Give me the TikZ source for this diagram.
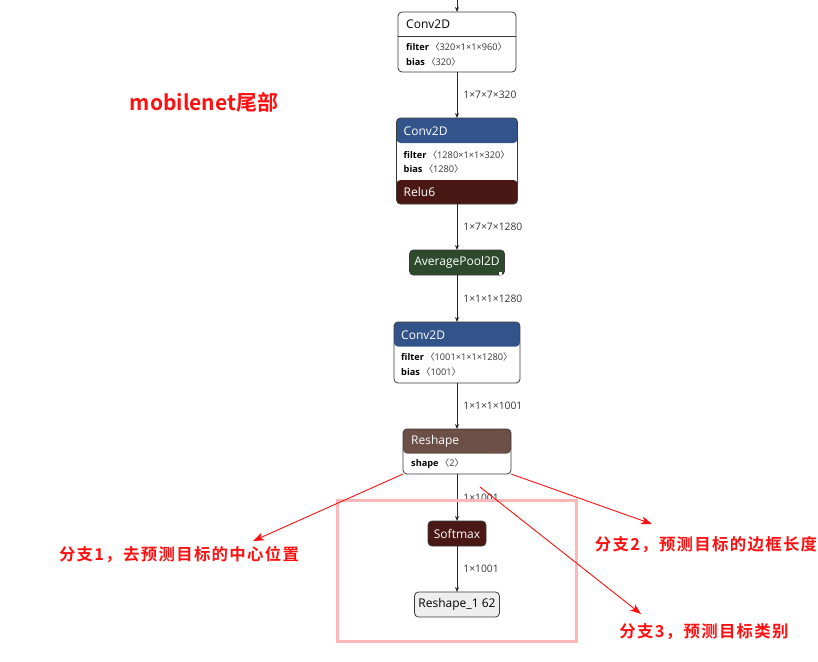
\documentclass[tikz,border=0pt]{standalone}
\usepackage{fontspec}
\setmainfont{Open Sans}
\newfontfamily\cjk{Noto Sans CJK SC}
\newfontfamily\cjkb{Noto Sans CJK SC Bold}
\usetikzlibrary{arrows.meta, positioning}
\definecolor{LayerBlue}{HTML}{33548A}
\definecolor{ActRed}{HTML}{4A1814}
\definecolor{PoolGreen}{HTML}{2E4A2C}
\definecolor{ShapeBrown}{HTML}{6C4F47}
\definecolor{InputGray}{HTML}{EEEEEE}
\definecolor{BoxLine}{HTML}{3A3A3A}
\definecolor{DimText}{HTML}{333333}
\definecolor{MarkRed}{HTML}{FF1010}
\definecolor{FramePink}{HTML}{FFB8B8}
\newcommand{\layerattr}[2]{\textbf{#1}\,{\color{DimText}{\cjk 〈}#2{\cjk 〉}}}

\tikzset{
  layer/.style={draw=BoxLine, line width=0.8pt, rounded corners=4pt, fill=white, inner sep=0pt, outer sep=0pt},
  headfill/.style={path picture={\fill[#1] (path picture bounding box.north west) rectangle ([yshift=-24.5pt]path picture bounding box.north east);}},
  optag/.style={font=\fontsize{12}{14}\selectfont, text=white, anchor=west, inner sep=0pt},
  argline/.style={font=\fontsize{9.2}{11}\selectfont, text=black, anchor=west, inner sep=0pt},
  dim/.style={right, xshift=5pt, font=\fontsize{10.3}{12}\selectfont, text=DimText, inner sep=1pt},
  edge/.style={-{Stealth[length=5pt, width=4pt]}, line width=0.8pt, draw=black!85},
  pointer/.style={draw=MarkRed, line width=0.9pt, -{Stealth[length=11pt, width=8pt, inset=3pt]}},
  note/.style={font=\cjkb\fontsize{16.4}{19}\selectfont\addfontfeature{LetterSpace=8}, text=MarkRed, inner sep=0pt}
}

\begin{document}
\begin{tikzpicture}[x=1pt, y=-1pt]
  \useasboundingbox (0,0) rectangle (818,661);

  % layer column
  \coordinate (in) at (457,0);
  \node[layer, minimum width=118pt, minimum height=60pt, anchor=north] (conv1) at (457,12) {};
  \node[layer, minimum width=121pt, minimum height=86pt, below=46pt of conv1,
        path picture={\fill[LayerBlue] (path picture bounding box.north west) rectangle ([yshift=-25pt]path picture bounding box.north east);
                      \fill[ActRed] ([yshift=24pt]path picture bounding box.south west) rectangle (path picture bounding box.south east);}] (conv2) {};
  \node[layer, fill=PoolGreen, minimum width=95pt, minimum height=25pt, below=46pt of conv2] (pool) {};
  \node[layer, headfill=LayerBlue, minimum width=126pt, minimum height=61pt, below=47pt of pool] (conv3) {};
  \node[layer, headfill=ShapeBrown, minimum width=108pt, minimum height=45pt, below=46pt of conv3] (resh) {};
  \node[layer, fill=ActRed, minimum width=58pt, minimum height=25pt, below=47pt of resh] (soft) {};
  \node[layer, fill=InputGray, minimum width=85pt, minimum height=25pt, below=46pt of soft] (out) {};

  % texts in the boxes
  \node[optag, text=black] (conv1t) at ([xshift=8pt, yshift=-12pt]conv1.north west) {Conv2D};
  \draw[BoxLine, line width=0.8pt] ([yshift=-24pt]conv1.north west) -- ([yshift=-24pt]conv1.north east);
  \node[argline] (conv1a) at ([xshift=8pt, yshift=-35pt]conv1.north west) {\layerattr{filter}{320×1×1×960}};
  \node[argline] (conv1b) at ([xshift=8pt, yshift=-50pt]conv1.north west) {\layerattr{bias}{320}};

  \node[optag] (conv2t) at ([xshift=7pt, yshift=-13pt]conv2.north west) {Conv2D};
  \node[argline] (conv2a) at ([xshift=7pt, yshift=-37pt]conv2.north west) {\layerattr{filter}{1280×1×1×320}};
  \node[argline] (conv2b) at ([xshift=7pt, yshift=-51pt]conv2.north west) {\layerattr{bias}{1280}};
  \node[optag] (conv2r) at ([xshift=7pt, yshift=-74pt]conv2.north west) {Relu6};

  \node[optag, anchor=center] (poolt) at (pool) {AveragePool2D};
  \fill[white] ([xshift=-6pt, yshift=3pt]pool.south east) rectangle ++(3pt,-3pt);

  \node[optag] (conv3t) at ([xshift=7pt, yshift=-13pt]conv3.north west) {Conv2D};
  \node[argline] (conv3a) at ([xshift=7pt, yshift=-35pt]conv3.north west) {\layerattr{filter}{1001×1×1×1280}};
  \node[argline] (conv3b) at ([xshift=7pt, yshift=-50pt]conv3.north west) {\layerattr{bias}{1001}};

  \node[optag] (resht) at ([xshift=8pt, yshift=-12pt]resh.north west) {Reshape};
  \node[argline] (resha) at ([xshift=8pt, yshift=-35pt]resh.north west) {\layerattr{shape}{2}};

  \node[optag, anchor=center] (softt) at (soft) {Softmax};
  \node[optag, anchor=center, text=black] (outt) at (out) {Reshape\_1 62};

  % connectors
  \draw[edge] (in) -- (conv1.north);
  \draw[edge] (conv1.south) -- node[dim] (d1) {1×7×7×320} (conv2.north);
  \draw[edge] (conv2.south) -- node[dim] (d2) {1×7×7×1280} (pool.north);
  \draw[edge] (pool.south) -- node[dim] (d3) {1×1×1×1280} (conv3.north);
  \draw[edge] (conv3.south) -- node[dim] (d4) {1×1×1×1001} (resh.north);
  \draw[edge] (resh.south) -- node[dim] (d5) {1×1001} (soft.north);
  \draw[edge] (soft.south) -- node[dim] (d6) {1×1001} (out.north);

  % pink frame round the softmax branch
  \draw[FramePink, line width=3pt] (337,500) rectangle (576,641);

  % notes
  \node[note, font=\cjkb\fontsize{21}{24}\selectfont] (title) at (204,102) {mobilenet尾部};
  \node[note] (br1) at (179,555) {分支1，去预测目标的中心位置};
  \node[note] (br2) at (706,545) {分支2，预测目标的边框长度};
  \node[note] (br3) at (704,632) {分支3，预测目标类别};

  \coordinate (s3) at (480,487);
  \coordinate (t1) at (253,541);
  \coordinate (t2) at (652,524);
  \coordinate (t3) at (641,614);
  \draw[pointer] (resh.south west) -- (t1);
  \draw[pointer] (resh.south east) -- (t2);
  \draw[pointer] (s3) -- (t3);
\end{tikzpicture}
\end{document}
